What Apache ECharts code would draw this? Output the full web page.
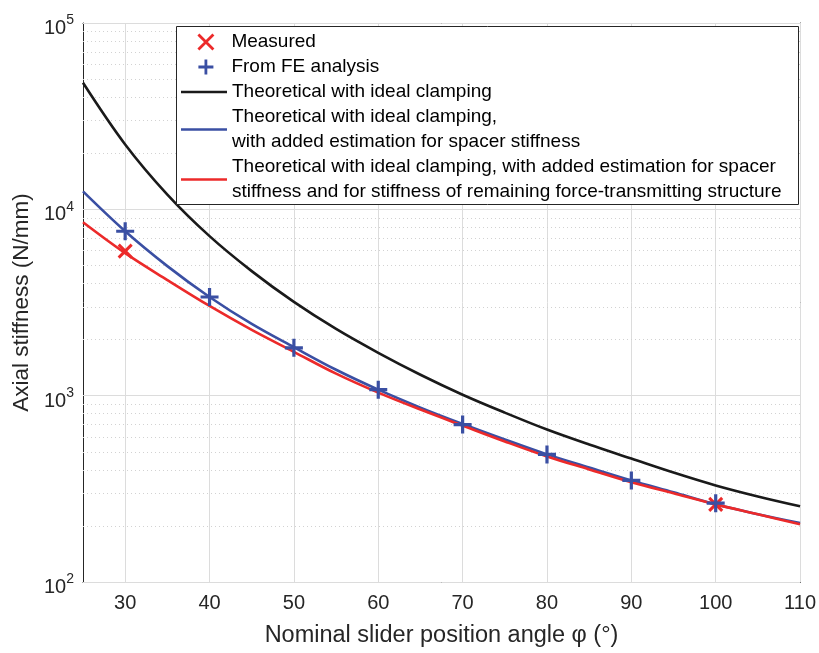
<!DOCTYPE html>
<html>
<head>
<meta charset="utf-8">
<script src="https://cdn.jsdelivr.net/npm/echarts@6/dist/echarts.min.js"></script>
<style>
html,body{margin:0;padding:0;background:#fff;}
#chart{width:819px;height:653px;}
</style>
</head>
<body>
<div id="chart"></div>
<script>
// ---- data ----
const angles = [25,30,35,40,45,50,55,60,65,70,75,80,85,90,95,100,105,110];
const idealVals  = [47800,22300,12000,7180,4660,3185,2280,1698,1295,1012,811,658,547,460,387,330,288,255];
const spacerVals = [12480,7628,4958,3384,2427,1820,1377,1077,863,705,582,484,412,351,303,261,231,207];
const fullVals   = [8520,5817,4172,3029,2254,1719,1312,1038,842,691,568,472,402,343,299,261,231,204];
const feAngles = [30,40,50,60,70,80,90,100];
const feVals   = [7628,3384,1806,1077,700,484,351,265];
const measAngles = [30,100];
const measVals   = [5962,261];
const xTicks = [30,40,50,60,70,80,90,100,110];
const yDecades = [100,1000,10000,100000];
const yMinor = [200,300,400,500,600,700,800,900,2000,3000,4000,5000,6000,7000,8000,9000,20000,30000,40000,50000,60000,70000,80000,90000];

const names = [
  'Measured',
  'From FE analysis',
  'Theoretical with ideal clamping',
  'Theoretical with ideal clamping,\nwith added estimation for spacer stiffness',
  'Theoretical with ideal clamping, with added estimation for spacer\nstiffness and for stiffness of remaining force-transmitting structure'
];

const AX = '#262626';
const RED = '#ec2a2a';
const BLUE = '#3a4fa3';
const BLK = '#1a1a1a';
const FONT = 'Liberation Sans, Arial, Helvetica, sans-serif';

const zip = (xs, ys) => xs.map((x, i) => [x, ys[i]]);

const gridLines = [];
xTicks.forEach(v => gridLines.push({xAxis: v, lineStyle: {color: '#dcdcdc', width: 1, type: 'solid'}}));
yDecades.forEach(v => gridLines.push({yAxis: v, lineStyle: {color: '#dcdcdc', width: 1, type: 'solid'}}));
yMinor.forEach(v => gridLines.push({yAxis: v, lineStyle: {color: '#d2d2d2', width: 1, type: [1, 3]}}));

const supLabel = v => '{a|10}{s|' + Math.round(Math.log10(v)) + '}';

const legendText = {fontFamily: FONT, fontSize: 19, color: '#000', lineHeight: 25};

const chart = echarts.init(document.getElementById('chart'), null, {renderer: 'canvas'});
chart.setOption({
  animation: false,
  backgroundColor: '#ffffff',
  textStyle: {fontFamily: FONT},
  grid: {left: 83, right: 17, top: 23, bottom: 69, containLabel: false},
  graphic: [{
    type: 'rect', z: 50, silent: true,
    shape: {x: 176.5, y: 26.5, width: 622, height: 178},
    style: {fill: '#ffffff', stroke: AX, lineWidth: 1}
  }],
  legend: [{
    orient: 'vertical', left: 192, top: 29.5, z: 60,
    padding: [0, 0, 0, 5], itemGap: 0,
    itemWidth: 15, itemHeight: 15,
    selectedMode: false,
    itemStyle: {borderWidth: 2.8},
    textStyle: Object.assign({}, legendText, {padding: [0, 0, 0, 13]}),
    data: names.slice(0, 2)
  }, {
    orient: 'vertical', left: 176, top: 79.5, z: 60,
    padding: [0, 0, 0, 5], itemGap: 0,
    itemWidth: 46, itemHeight: 2.6, icon: 'rect',
    selectedMode: false,
    textStyle: legendText,
    data: names.slice(2)
  }],
  xAxis: [{
    type: 'value', min: 25, max: 110,
    axisLine: {show: true, onZero: false, lineStyle: {color: AX, width: 1}},
    axisTick: {show: true, inside: true, length: 7, lineStyle: {color: AX}, customValues: xTicks},
    axisLabel: {show: true, customValues: xTicks, margin: 11, fontSize: 20, color: '#262626', fontFamily: FONT},
    splitLine: {show: false},
    name: 'Nominal slider position angle φ (°)',
    nameLocation: 'middle', nameGap: 42,
    nameTextStyle: {fontSize: 23.5, color: '#262626', fontFamily: FONT}
  }, {
    type: 'value', min: 25, max: 110, position: 'top',
    axisLine: {show: true, onZero: false, lineStyle: {color: AX, width: 1}},
    axisTick: {show: true, inside: true, length: 7, lineStyle: {color: AX}, customValues: xTicks},
    axisLabel: {show: false},
    splitLine: {show: false}
  }],
  yAxis: [{
    type: 'log', logBase: 10, min: 100, max: 100000,
    axisLine: {show: true, onZero: false, lineStyle: {color: AX, width: 1}},
    axisTick: {show: true, inside: true, length: 7, lineStyle: {color: AX}},
    axisLabel: {
      show: true, margin: 9, formatter: supLabel,
      rich: {
        a: {fontSize: 20, color: '#262626', fontFamily: FONT, padding: [11, 0, 0, 0]},
        s: {fontSize: 14, color: '#262626', fontFamily: FONT, padding: [0, 0, 5, 0]}
      }
    },
    splitLine: {show: false},
    minorTick: {show: false},
    name: 'Axial stiffness (N/mm)',
    nameLocation: 'middle', nameGap: 46,
    nameTextStyle: {fontSize: 22.5, color: '#262626', fontFamily: FONT}
  }, {
    type: 'log', logBase: 10, min: 100, max: 100000, position: 'right',
    axisLine: {show: true, onZero: false, lineStyle: {color: AX, width: 1}},
    axisTick: {show: true, inside: true, length: 7, lineStyle: {color: AX}},
    axisLabel: {show: false},
    splitLine: {show: false}
  }],
  series: [
    {
      name: 'grid', type: 'line', data: [], z: 0, silent: true,
      markLine: {silent: true, z: 1, symbol: ['none', 'none'], label: {show: false}, animation: false,
        emphasis: {disabled: true}, data: gridLines}
    },
    {
      name: names[2], type: 'line', z: 3, smooth: 0.35, symbol: 'none',
      data: zip(angles, idealVals),
      lineStyle: {color: BLK, width: 2.6}, itemStyle: {color: BLK}
    },
    {
      name: names[3], type: 'line', z: 3, smooth: 0.35, symbol: 'none',
      data: zip(angles, spacerVals),
      lineStyle: {color: BLUE, width: 2.6}, itemStyle: {color: BLUE}
    },
    {
      name: names[4], type: 'line', z: 3, smooth: 0.35, symbol: 'none',
      data: zip(angles, fullVals),
      lineStyle: {color: RED, width: 2.6}, itemStyle: {color: RED}
    },
    {
      name: names[0], type: 'scatter', z: 4,
      data: zip(measAngles, measVals),
      symbol: 'path://M0,0L10,10M10,0L0,10', symbolSize: 13,
      itemStyle: {color: RED, borderColor: RED, borderWidth: 3, opacity: 1}
    },
    {
      name: names[1], type: 'scatter', z: 4,
      data: zip(feAngles, feVals),
      symbol: 'path://M5,0L5,10M0,5L10,5', symbolSize: 18,
      itemStyle: {color: BLUE, borderColor: BLUE, borderWidth: 3.2, opacity: 1}
    }
  ]
});
</script>
</body>
</html>
